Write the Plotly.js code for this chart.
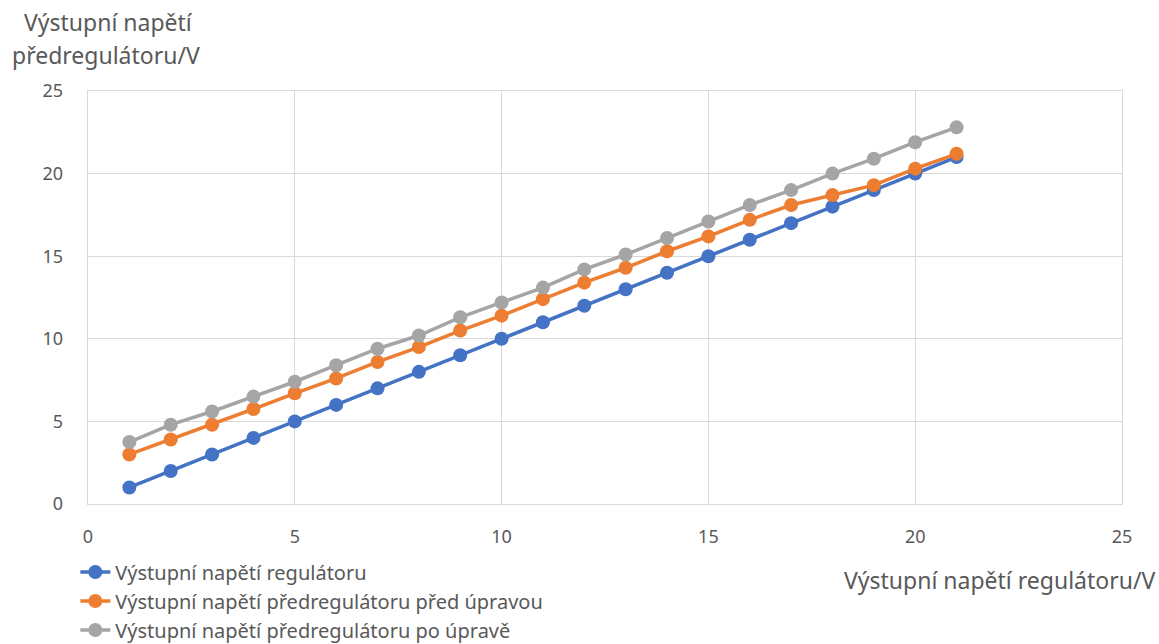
<!DOCTYPE html>
<html>
<head>
<meta charset="utf-8">
<script src="https://cdn.plot.ly/plotly-3.0.1.min.js"></script>
<style>html,body{margin:0;padding:0;background:#fff;}#chart{width:1159px;height:644px;}</style>
</head>
<body>
<div id="chart"></div>
<script>
const xValues = [1,2,3,4,5,6,7,8,9,10,11,12,13,14,15,16,17,18,19,20,21];
const regulator = [1,2,3,4,5,6,7,8,9,10,11,12,13,14,15,16,17,18,19,20,21];
const preBefore = [3.0,3.9,4.8,5.75,6.7,7.6,8.6,9.5,10.5,11.4,12.4,13.4,14.3,15.3,16.2,17.2,18.1,18.7,19.3,20.3,21.2];
const preAfter = [3.75,4.8,5.6,6.5,7.4,8.4,9.4,10.2,11.3,12.2,13.1,14.2,15.1,16.1,17.1,18.1,19.0,20.0,20.9,21.9,22.8];
const seriesNames = ["Výstupní napětí regulátoru","Výstupní napětí předregulátoru před úpravou","Výstupní napětí předregulátoru po úpravě"];
const yTitleLines = ["Výstupní napětí","předregulátoru/V"];
const xTitle = "Výstupní napětí regulátoru/V";

const FONT = "Noto Sans, Open Sans, sans-serif";
const TXT = "#595959";
const colors = ["#4472C4","#ED7D31","#A5A5A5"];
const ys = [regulator, preBefore, preAfter];

const traces = ys.map((y,i)=>({
  x: xValues, y: y, name: seriesNames[i], type: "scatter", mode: "lines+markers",
  line: {color: colors[i], width: 3.5},
  marker: {color: colors[i], size: 14}
}));

const layout = {
  width: 1159, height: 644,
  margin: {l: 88, r: 37, t: 91, b: 140, autoexpand: false},
  paper_bgcolor: "#fff", plot_bgcolor: "#fff",
  font: {family: FONT, color: TXT, size: 18},
  showlegend: true,
  xaxis: {range: [0,25], dtick: 5, tick0: 0, showgrid: true, gridcolor: "#D9D9D9", gridwidth: 1.3,
          zeroline: false, showline: true, mirror: true, linecolor: "#D9D9D9", linewidth: 1.3,
          ticks: "outside", ticklen: 16, tickcolor: "rgba(0,0,0,0)",
          tickfont: {family: FONT, size: 18, color: TXT}},
  yaxis: {range: [0,25], dtick: 5, tick0: 0, showgrid: true, gridcolor: "#D9D9D9", gridwidth: 1.3,
          zeroline: false, showline: true, mirror: true, linecolor: "#D9D9D9", linewidth: 1.3,
          ticks: "outside", ticklen: 20, tickcolor: "rgba(0,0,0,0)",
          tickfont: {family: FONT, size: 18, color: TXT}},
  legend: {xref: "container", yref: "container", x: 0.065, y: 0.142, xanchor: "left", yanchor: "top",
           orientation: "v", font: {family: FONT, size: 20, color: TXT}, tracegroupgap: 0,
           bgcolor: "rgba(0,0,0,0)"},
  annotations: [
    {xref: "paper", yref: "paper", x: -0.0638, y: 1.167, xanchor: "left", yanchor: "middle", showarrow: false,
     text: yTitleLines[0], font: {family: FONT, size: 23, color: TXT}},
    {xref: "paper", yref: "paper", x: -0.0754, y: 1.087, xanchor: "left", yanchor: "middle", showarrow: false,
     text: yTitleLines[1], font: {family: FONT, size: 23, color: TXT}},
    {xref: "paper", yref: "paper", x: 1.0338, y: -0.184, xanchor: "right", yanchor: "middle", showarrow: false,
     text: xTitle, font: {family: FONT, size: 23, color: TXT}}
  ]
};

Plotly.newPlot("chart", traces, layout, {displayModeBar: false, staticPlot: true});
</script>
</body>
</html>
